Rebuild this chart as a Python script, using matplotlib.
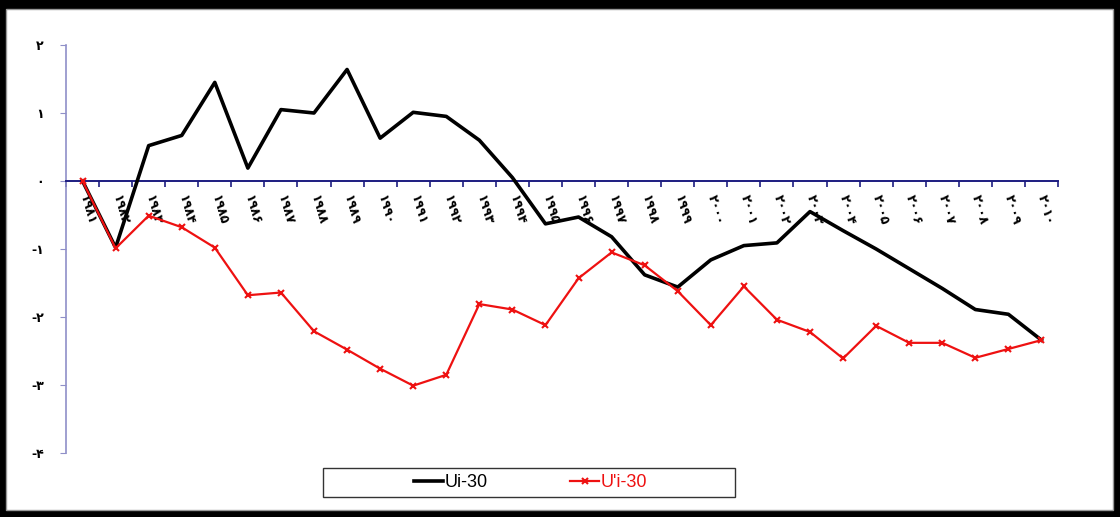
import matplotlib
matplotlib.use("Agg")
import matplotlib.pyplot as plt
from matplotlib.patches import Rectangle
import numpy as np

# Annual values 1981-2010
years = list(range(1981, 2011))
ui_30 = [0.0, -0.98, 0.52, 0.67, 1.45, 0.19, 1.05, 1.0, 1.64, 0.63,
         1.01, 0.95, 0.6, 0.05, -0.63, -0.53, -0.82, -1.38, -1.56, -1.16,
         -0.95, -0.91, -0.45, -0.73, -1.0, -1.29, -1.58, -1.89, -1.96, -2.34]
upi_30 = [0.0, -0.99, -0.51, -0.68, -0.98, -1.68, -1.64, -2.21, -2.48, -2.76,
          -3.01, -2.85, -1.81, -1.89, -2.12, -1.43, -1.05, -1.24, -1.62, -2.12,
          -1.55, -2.04, -2.22, -2.61, -2.13, -2.38, -2.38, -2.6, -2.47, -2.34]
y_ticks = [-4, -3, -2, -1, 0, 1, 2]

PERSIAN = str.maketrans("0123456789", "۰۱۲۳۴۵۶۷۸۹")


def fa(v):
    return str(v).translate(PERSIAN)


fig = plt.figure(figsize=(11.2, 5.17), dpi=100)
fig.patch.set_facecolor("black")
fig.patches.append(Rectangle((6 / 1120, 7 / 517), 1107 / 1120, 501 / 517,
                             transform=fig.transFigure, facecolor="white",
                             edgecolor="#999999", lw=1.0, zorder=-5))

ax = fig.add_axes([66 / 1120, 1 - 453 / 517, (1058 - 66) / 1120, (453 - 45) / 517])
ax.set_facecolor("none")

x = np.arange(len(years))
ax.plot(x, ui_30, color="black", lw=2.6, label="Ui-30", zorder=3)
ax.plot(x, upi_30, color="#ee1111", lw=1.6, marker="x", ms=5, mew=1.5,
        label="U'i-30", zorder=4)

ax.set_xlim(-0.5, len(years) - 0.5)
ax.set_ylim(-4, 2)

for s in ["top", "right"]:
    ax.spines[s].set_visible(False)
ax.spines["left"].set_color("#8f8fc8")
ax.spines["left"].set_linewidth(1.2)
ax.spines["bottom"].set_position(("data", 0))
ax.spines["bottom"].set_color("#1c1c80")
ax.spines["bottom"].set_linewidth(1.4)

ax.set_yticks(y_ticks)
ax.set_yticklabels([("-" if v < 0 else "") + fa(abs(v)) for v in y_ticks],
                   fontsize=9, fontweight="bold", family=["DejaVu Sans"])
ax.tick_params(axis="y", length=4, color="#8f8fc8", pad=12)

# boundary ticks on the zero line, labels at category centres
ax.set_xticks(np.arange(-0.5, len(years) + 0.5, 1.0))
ax.set_xticklabels([])
ax.tick_params(axis="x", which="major", direction="out", length=4,
               color="#1c1c80", width=1.2)
ax.set_xticks(x, minor=True)
ax.set_xticklabels([fa(y) for y in years], minor=True, rotation=-74,
                   rotation_mode="anchor", ha="left", va="center",
                   fontsize=9, fontweight="bold", family=["DejaVu Sans"])
ax.tick_params(axis="x", which="minor", length=0, pad=10)

fig.patches.append(Rectangle((323 / 1120, 1 - 497 / 517), 412 / 1120, 29 / 517,
                             transform=fig.transFigure, facecolor="white",
                             edgecolor="#333333", lw=1.0, zorder=1))
leg = fig.legend(loc="center", bbox_to_anchor=(0.4737, 1 - 482.5 / 517), ncol=2,
                 frameon=False, prop={"family": "Liberation Sans", "size": 13},
                 handlelength=1.6, columnspacing=4.6, handletextpad=0.05)
leg.get_texts()[1].set_color("#ee1111")
leg.set_zorder(2)

fig.savefig("out.png", dpi=100, facecolor=fig.get_facecolor())
